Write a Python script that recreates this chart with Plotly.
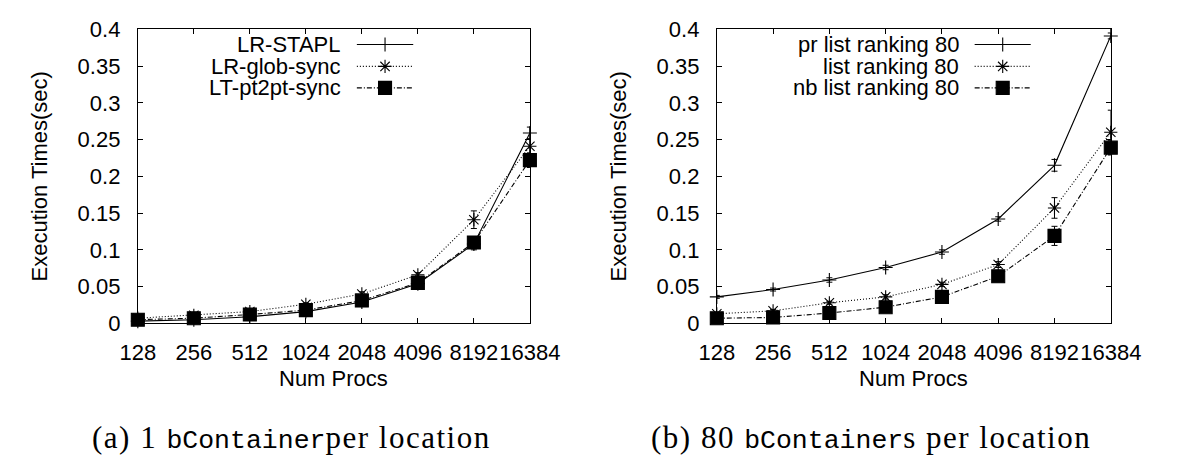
import plotly.graph_objects as go

W, H = 1183, 466

# Processor counts (categorical x axis)
procs = ["128", "256", "512", "1024", "2048", "4096", "8192", "16384"]

# (a) 1 bContainer per location
lr_stapl = [0.003, 0.005, 0.009, 0.016, 0.029, 0.054, 0.108, 0.259]
lr_stapl_err = [0.0, 0.0, 0.0, 0.001, 0.001, 0.002, 0.008, 0.008]
lr_glob = [0.007, 0.011, 0.016, 0.026, 0.040, 0.066, 0.141, 0.241]
lr_glob_err = [0.001, 0.001, 0.002, 0.002, 0.003, 0.003, 0.012, 0.010]
lt_pt2pt = [0.005, 0.007, 0.012, 0.018, 0.031, 0.055, 0.110, 0.222]
lt_pt2pt_err = [0.0, 0.0, 0.001, 0.001, 0.001, 0.002, 0.006, 0.010]

# (b) 80 bContainers per location
pr_lr80 = [0.036, 0.046, 0.059, 0.076, 0.097, 0.142, 0.215, 0.391]
pr_lr80_err = [0.002, 0.002, 0.003, 0.003, 0.003, 0.003, 0.008, 0.004]
lr80 = [0.013, 0.017, 0.028, 0.036, 0.053, 0.080, 0.157, 0.260]
lr80_err = [0.001, 0.002, 0.002, 0.003, 0.003, 0.004, 0.014, 0.030]
nb_lr80 = [0.007, 0.008, 0.014, 0.022, 0.036, 0.064, 0.119, 0.239]
nb_lr80_err = [0.001, 0.001, 0.002, 0.002, 0.003, 0.003, 0.013, 0.010]

y_ticks = [0, 0.05, 0.1, 0.15, 0.2, 0.25, 0.3, 0.35, 0.4]
y_ticktext = ["0", "0.05", "0.1", "0.15", "0.2", "0.25", "0.3", "0.35", "0.4"]

SANS = "Liberation Sans, Arial, sans-serif"
FS = 22

# line / marker styles per series (gnuplot look)
STYLES = [
    dict(dash="solid", symbol="cross-thin-open", size=10),
    dict(dash="1px,2px", symbol="asterisk-open", size=11),
    dict(dash="5px,2px,1px,2px", symbol="square", size=13),
]

# plot-area geometry in pixels
PLOT_TOP, PLOT_BOTTOM = 18.3, 329.0
LEFT_X = (125, 534)
RIGHT_X = (729, 1140)


def px_x(p):
    return p / W


def px_y(p):
    return 1 - p / H


fig = go.Figure()

xs = list(range(len(procs)))

panels = [
    ("x", "y", [("LR-STAPL", lr_stapl, lr_stapl_err),
                ("LR-glob-sync", lr_glob, lr_glob_err),
                ("LT-pt2pt-sync", lt_pt2pt, lt_pt2pt_err)]),
    ("x2", "y2", [("pr list ranking 80", pr_lr80, pr_lr80_err),
                  ("list ranking 80", lr80, lr80_err),
                  ("nb list ranking 80", nb_lr80, nb_lr80_err)]),
]

for xa, ya, series in panels:
    for (name, vals, err), st in zip(series, STYLES):
        fig.add_trace(go.Scatter(
            x=xs, y=vals, name=name, mode="lines+markers",
            xaxis=xa, yaxis=ya, cliponaxis=False, showlegend=False,
            line=dict(color="black", width=1.1, dash=st["dash"]),
            marker=dict(symbol=st["symbol"], size=st["size"], color="black",
                        line=dict(color="black", width=1.1)),
            error_y=dict(type="data", array=err, color="black",
                         thickness=1, width=3),
        ))

# gnuplot-style key: right-aligned label followed by a line sample with marker
KEY_ROWS = [34.4, 57.5, 80.2]
KEYS = [
    (338.6, 353.5, 412.3, [s[0] for s in panels[0][2]]),
    (984.0, 998.0, 1056.5, [s[0] for s in panels[1][2]]),
]
annotations = []
for text_right, line_x0, line_x1, names in KEYS:
    for row_y, name, st in zip(KEY_ROWS, names, STYLES):
        annotations.append(dict(
            text=name, x=px_x(text_right), y=px_y(row_y), xref="paper", yref="paper",
            xanchor="right", yanchor="middle", showarrow=False,
            font=dict(family=SANS, size=FS, color="black")))
        fig.add_trace(go.Scatter(
            x=[line_x0, line_x1], y=[row_y, row_y], mode="lines",
            xaxis="x3", yaxis="y3", showlegend=False, hoverinfo="skip",
            line=dict(color="black", width=1.1, dash=st["dash"])))
        fig.add_trace(go.Scatter(
            x=[(line_x0 + line_x1) / 2], y=[row_y], mode="markers",
            xaxis="x3", yaxis="y3", showlegend=False, hoverinfo="skip",
            marker=dict(symbol=st["symbol"], size=st["size"], color="black",
                        line=dict(color="black", width=1.1))))

# axis titles
for (x0, x1) in (LEFT_X, RIGHT_X):
    annotations.append(dict(
        text="Num Procs", x=px_x((x0 + x1) / 2), y=px_y(387), xref="paper", yref="paper",
        xanchor="center", yanchor="middle", showarrow=False,
        font=dict(family=SANS, size=FS, color="black")))
    annotations.append(dict(
        text="Execution Times(sec)", x=px_x(x0 - 103), y=px_y((PLOT_TOP + PLOT_BOTTOM) / 2),
        xref="paper", yref="paper", xanchor="center", yanchor="middle",
        textangle=-90, showarrow=False,
        font=dict(family=SANS, size=FS, color="black")))

# sub-figure captions
MONO = "font-family:Liberation Mono, monospace;font-size:26.5px"
SERIF_SP = "letter-spacing:1.5px"
captions = [
    (285, f"<span style='{SERIF_SP}'>(a) 1 </span><span style='{MONO}'>bContainer</span>"
          f"<span style='{SERIF_SP}'>per location</span>"),
    (890, f"<span style='{SERIF_SP}'>(b) 80 </span><span style='{MONO}'>bContainer</span>"
          f"<span style='{SERIF_SP}'>s per location</span>"),
]
for cx, txt in captions:
    annotations.append(dict(
        text=txt, x=px_x(cx), y=px_y(450), xref="paper", yref="paper",
        xanchor="center", yanchor="middle", showarrow=False,
        font=dict(family="Liberation Serif, Times New Roman, serif", size=31, color="black")))

common_x = dict(
    tickmode="array", tickvals=xs, ticktext=procs, range=[0, len(procs) - 1],
    tickangle=0,
    showline=True, linecolor="black", linewidth=1, mirror="ticks",
    ticks="inside", ticklen=5, tickcolor="black", tickwidth=1,
    showgrid=False, zeroline=False, ticklabelstandoff=9,
    tickfont=dict(family=SANS, size=FS, color="black"),
)
common_y = dict(
    tickmode="array", tickvals=y_ticks, ticktext=y_ticktext, range=[0, 0.4],
    showline=True, linecolor="black", linewidth=1, mirror="ticks",
    ticks="inside", ticklen=5, tickcolor="black", tickwidth=1,
    showgrid=False, zeroline=False, ticklabelstandoff=12,
    tickfont=dict(family=SANS, size=FS, color="black"),
)
ydom = [px_y(PLOT_BOTTOM), px_y(PLOT_TOP)]

fig.update_layout(
    width=W, height=H, margin=dict(l=0, r=0, t=0, b=0),
    paper_bgcolor="white", plot_bgcolor="rgba(0,0,0,0)", showlegend=False,
    xaxis=dict(domain=[px_x(LEFT_X[0]), px_x(LEFT_X[1])], anchor="y", **common_x),
    yaxis=dict(domain=ydom, anchor="x", **common_y),
    xaxis2=dict(domain=[px_x(RIGHT_X[0]), px_x(RIGHT_X[1])], anchor="y2", **common_x),
    yaxis2=dict(domain=ydom, anchor="x2", **common_y),
    xaxis3=dict(domain=[0, 1], range=[0, W], visible=False, anchor="y3", fixedrange=True),
    yaxis3=dict(domain=[0, 1], range=[H, 0], visible=False, anchor="x3", fixedrange=True),
    annotations=annotations,
)

fig.write_html("out.html")
